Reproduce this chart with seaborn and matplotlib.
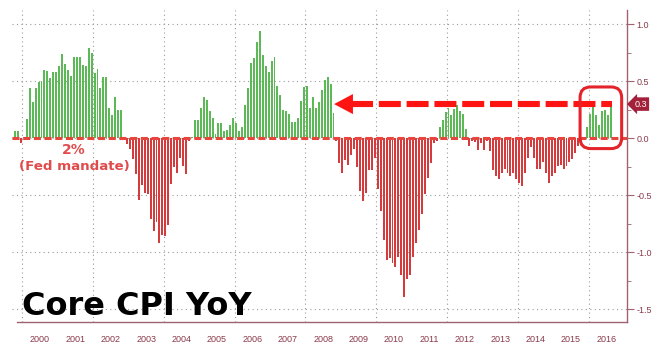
import numpy as np
import pandas as pd
import matplotlib
matplotlib.use("Agg")
import matplotlib.pyplot as plt
import seaborn as sns
from matplotlib.patches import FancyBboxPatch, Polygon
from matplotlib.transforms import blended_transform_factory

# Core CPI YoY minus the 2% Fed mandate, monthly Oct 1999 .. Aug 2016
START = "1999-10"
gap_vs_mandate = [
    0.065, 0.065, -0.04,                                                    # 1999 Oct-Dec
    0.01, 0.17, 0.44, 0.32, 0.44, 0.49, 0.50, 0.60, 0.59, 0.53, 0.58, 0.58,  # 2000
    0.63, 0.74, 0.65, 0.60, 0.55, 0.71, 0.71, 0.71, 0.64, 0.63, 0.79, 0.75,  # 2001
    0.57, 0.61, 0.44, 0.54, 0.54, 0.27, 0.20, 0.36, 0.25, 0.25, -0.01, -0.05,  # 2002
    -0.09, -0.18, -0.31, -0.54, -0.41, -0.48, -0.49, -0.71, -0.81, -0.73, -0.92, -0.85,  # 2003
    -0.86, -0.76, -0.40, -0.25, -0.30, -0.17, -0.24, -0.31, -0.02, 0.01, 0.16, 0.16,  # 2004
    0.27, 0.36, 0.34, 0.24, 0.18, 0.04, 0.13, 0.13, 0.06, 0.07, 0.12, 0.18,  # 2005
    0.13, 0.06, 0.10, 0.29, 0.44, 0.66, 0.70, 0.84, 0.94, 0.73, 0.63, 0.58,  # 2006
    0.68, 0.71, 0.46, 0.38, 0.25, 0.24, 0.21, 0.14, 0.14, 0.18, 0.33, 0.45,  # 2007
    0.46, 0.27, 0.36, 0.27, 0.32, 0.42, 0.51, 0.54, 0.48, 0.22, -0.02, -0.22,  # 2008
    -0.30, -0.19, -0.23, -0.15, -0.09, -0.25, -0.46, -0.55, -0.48, -0.28, -0.28, -0.17,  # 2009
    -0.44, -0.64, -0.89, -1.07, -1.05, -1.09, -1.13, -1.04, -1.20, -1.39, -1.23, -1.20,  # 2010
    -1.04, -0.92, -0.80, -0.66, -0.49, -0.35, -0.22, -0.04, -0.02, 0.10, 0.16, 0.23,  # 2011
    0.27, 0.20, 0.26, 0.29, 0.24, 0.21, 0.08, -0.07, -0.02, -0.03, -0.10, -0.04,  # 2012
    -0.10, -0.02, -0.11, -0.28, -0.33, -0.36, -0.30, -0.27, -0.30, -0.33, -0.30, -0.36,  # 2013
    -0.39, -0.42, -0.30, -0.17, -0.08, -0.17, -0.27, -0.27, -0.21, -0.30, -0.39, -0.33,  # 2014
    -0.30, -0.24, -0.23, -0.27, -0.24, -0.21, -0.18, -0.13, -0.07, -0.04, -0.01, 0.10,  # 2015
    0.21, 0.31, 0.20, 0.12, 0.24, 0.25, 0.20, 0.31,                          # 2016 Jan-Aug
]
years = list(range(2000, 2017))
y_ticks = [1.0, 0.5, 0.0, -0.5, -1.0, -1.5]
latest_label = 0.3
arrow_target = "2008-10"

GREEN = '#5db857'
RED = '#d33b3d'
AXIS_COL = '#a06270'
TEXT_COL = '#8a3a4a'

dates = pd.date_range(START, periods=len(gap_vs_mandate), freq="MS")
df = pd.DataFrame({"date": dates, "gap": gap_vs_mandate})
# position in months since Jan 2000, bar centred in its month
df["pos"] = (df.date.dt.year - 2000) * 12 + df.date.dt.month - 1 + 0.5

sns.set_style("white")
plt.rcParams['font.family'] = ['Liberation Sans', 'DejaVu Sans']

fig = plt.figure(figsize=(6.55, 3.53), dpi=100)
ax = fig.add_axes([0.0183, 0.0878, 0.9389, 0.884])

pos_df = df[df.gap >= 0]
neg_df = df[df.gap < 0]
sns.barplot(data=pos_df, x="pos", y="gap", native_scale=True, errorbar=None,
            color=GREEN, saturation=1, width=0.66, linewidth=0, ax=ax, zorder=2)
sns.barplot(data=neg_df, x="pos", y="gap", native_scale=True, errorbar=None,
            color=RED, saturation=1, width=0.66, linewidth=0, ax=ax, zorder=2)

ax.set_xlim(-3.5, 205)
ax.set_ylim(-1.61, 1.125)
ax.set_xlabel("")
ax.set_ylabel("")

# grid: horizontal at major ticks, vertical every two years
ax.set_yticks(y_ticks)
ax.set_yticks(np.arange(-1.5, 1.01, 0.25), minor=True)
ax.grid(axis='y', which='major', ls=(0, (1, 3)), color='#9a9a9a', lw=0.8, zorder=0)
for yr in years[::2]:
    ax.axvline((yr - 2000) * 12, ls=(0, (1, 3)), color='#9a9a9a', lw=0.8, zorder=0)

# right hand axis
ax.yaxis.tick_right()
ax.set_yticklabels([f"{t:.1f}" for t in y_ticks])
ax.tick_params(axis='y', which='major', direction='out', length=5, width=0.8,
               color=AXIS_COL, labelcolor=TEXT_COL, labelsize=6.5, pad=2)
ax.tick_params(axis='y', which='minor', direction='out', length=3, width=0.6,
               color=AXIS_COL)

# years in boxes along the bottom
ax.set_xticks([(yr - 2000) * 12 for yr in years + [2017]])
ax.set_xticklabels([])
ax.set_xticks([(yr - 2000) * 12 + 6 for yr in years], minor=True)
ax.set_xticklabels([str(yr) for yr in years], minor=True)
ax.tick_params(axis='x', which='major', direction='out', length=16, width=0.8,
               color='#c9a8b0')
ax.tick_params(axis='x', which='minor', length=0, labelsize=6.5,
               labelcolor=TEXT_COL, pad=9)

for side in ['left', 'top']:
    ax.spines[side].set_visible(False)
for side in ['right', 'bottom']:
    ax.spines[side].set_color(AXIS_COL)
    ax.spines[side].set_linewidth(1.0)
ax.spines['bottom'].set_bounds(-1.8, 205)

# 2% mandate line
ax.axhline(0, color='#e8453f', lw=2.2, dashes=(2.3, 1.2), zorder=3)
ax.text(17.5, -0.10, "2%", color='#e04b4b', fontsize=10, fontweight='bold',
        ha='center', va='center', family='DejaVu Sans', zorder=4)
ax.text(17.5, -0.245, "(Fed mandate)", color='#e04b4b', fontsize=9.6,
        fontweight='bold', ha='center', va='center', family='DejaVu Sans', zorder=4)

# arrow back to the last time core was this high
tip = df.loc[df.date == arrow_target, "pos"].iloc[0] + 0.2
last_pos = df.pos.iloc[-1] + 0.4
head_len, head_half = 6.4, 0.088
ax.add_patch(Polygon([[tip, latest_label], [tip + head_len, latest_label + head_half],
                      [tip + head_len, latest_label - head_half]],
                     closed=True, color='#ff1414', zorder=5, lw=0))
ax.plot([tip + head_len - 0.5, last_pos], [latest_label, latest_label],
        color='#ff1414', lw=4.4, dashes=(3.6, 0.95), solid_capstyle='butt',
        dash_capstyle='butt', zorder=5)

# rounded highlight around 2016
recent = df[(df.date >= "2015-12")]
x0, x1 = recent.pos.min() - 2.4, recent.pos.max() + 3.7
y0, y1 = -0.09, 0.45
ax.add_patch(FancyBboxPatch((x0, y0), x1 - x0, y1 - y0,
                            boxstyle="round,pad=0,rounding_size=3.6",
                            mutation_aspect=2.95 / 114, fill=False,
                            ec='#e3252b', lw=2.2, zorder=6))

# value badge on the axis
trans = blended_transform_factory(ax.transAxes, ax.transData)
ax.text(1.012, latest_label, f"{latest_label:.1f}", transform=trans, color='white',
        fontsize=6.5, ha='left', va='center', zorder=7, clip_on=False,
        bbox=dict(boxstyle='larrow,pad=0.25', fc='#a3213a', ec='none'))

ax.text(0, -1.55, "Core CPI YoY", fontsize=23, fontweight='bold', color='black',
        family='DejaVu Sans', ha='left', va='baseline', zorder=7)

fig.savefig("out.png", dpi=100)
